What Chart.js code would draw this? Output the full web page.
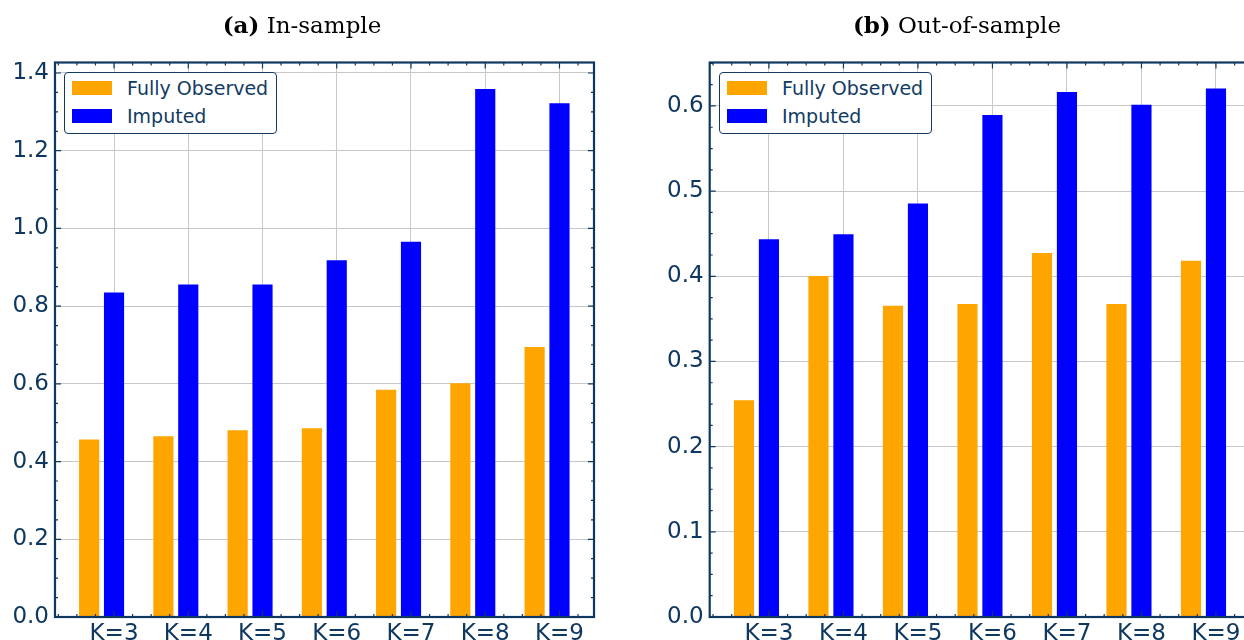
<!DOCTYPE html>
<html>
<head>
<meta charset="utf-8">
<script src="https://cdn.jsdelivr.net/npm/chart.js@4.4.1/dist/chart.umd.min.js"></script>
<style>
  html, body { margin: 0; padding: 0; background: #fff; width: 1244px; height: 640px; overflow: hidden; position: relative; }
  .panel { position: absolute; top: 0; height: 640px; }
  #p1 { left: 0; width: 620px; }
  #p2 { left: 620px; width: 640px; }
  .title { position: absolute; top: 11px; line-height: 28px; font-family: "DejaVu Serif"; font-size: 23px; color: #000; white-space: nowrap; transform: translateX(-50%); }
  .legend { position: absolute; top: 72px; width: 213px; height: 62px; box-sizing: border-box; border: 1px solid #123b63; border-radius: 4px; background: #fff; font-family: "DejaVu Sans"; font-size: 19px; color: #123b63; }
  .legend .sw { position: absolute; left: 7px; width: 40px; height: 14px; }
  .legend .lb { position: absolute; left: 62px; line-height: 22px; white-space: nowrap; }
</style>
</head>
<body>
<div class="panel" id="p1">
  <canvas id="c1" width="620" height="640"></canvas>
  <div class="title" style="left:302px"><b>(a)</b> In-sample</div>
  <div class="legend" style="left:64px">
    <div class="sw" style="top:8px;background:#ffa500"></div><div class="lb" style="top:4px">Fully Observed</div>
    <div class="sw" style="top:36px;background:#0000ff"></div><div class="lb" style="top:32px">Imputed</div>
  </div>
</div>
<div class="panel" id="p2">
  <canvas id="c2" width="640" height="640"></canvas>
  <div class="title" style="left:337px"><b>(b)</b> Out-of-sample</div>
  <div class="legend" style="left:99px">
    <div class="sw" style="top:8px;background:#ffa500"></div><div class="lb" style="top:4px">Fully Observed</div>
    <div class="sw" style="top:36px;background:#0000ff"></div><div class="lb" style="top:32px">Imputed</div>
  </div>
</div>
<script>
// data
const categories = ['K=3', 'K=4', 'K=5', 'K=6', 'K=7', 'K=8', 'K=9'];
const inObserved = [0.456, 0.464, 0.480, 0.485, 0.584, 0.601, 0.694];
const inImputed = [0.834, 0.855, 0.855, 0.917, 0.965, 1.358, 1.321];
const outObserved = [0.254, 0.400, 0.365, 0.367, 0.427, 0.367, 0.418];
const outImputed = [0.443, 0.449, 0.485, 0.589, 0.616, 0.601, 0.620];

const navy = '#0f3860';
const gridColor = '#c8c8c8';
const orange = '#ffa500';
const blue = '#0000ff';

// inward ticks on all four sides plus the frame
const framePlugin = {
    id: 'frame',
    afterDraw(chart) {
        const ctx = chart.ctx;
        const a = chart.chartArea;
        const x = chart.scales.x;
        const y = chart.scales.y;
        const yMajor = chart.options.scales.y.ticks.stepSize;
        ctx.save();
        ctx.strokeStyle = navy;
        ctx.lineWidth = 1.2;
        ctx.beginPath();
        for (let k = Math.ceil(x.min * 4); k <= Math.floor(x.max * 4); k++) {
            const px = x.getPixelForValue(k / 4);
            const len = k % 4 === 0 ? 6 : 3;
            ctx.moveTo(px, a.bottom); ctx.lineTo(px, a.bottom - len);
            ctx.moveTo(px, a.top); ctx.lineTo(px, a.top + len);
        }
        const yMinor = yMajor / 4;
        for (let k = 0; k * yMinor <= y.max + 1e-9; k++) {
            const py = y.getPixelForValue(k * yMinor);
            const len = k % 4 === 0 ? 6 : 3;
            ctx.moveTo(a.left, py); ctx.lineTo(a.left + len, py);
            ctx.moveTo(a.right, py); ctx.lineTo(a.right - len, py);
        }
        ctx.stroke();
        ctx.lineWidth = 2.2;
        ctx.strokeRect(a.left, a.top, a.right - a.left, a.bottom - a.top);
        ctx.restore();
    }
};

function makeChart(id, observed, imputed, yMax, yStep, leftWidth, rightPad) {
    new Chart(document.getElementById(id), {
        type: 'bar',
        data: {
            datasets: [
                {
                    label: 'Fully Observed',
                    data: observed.map((v, i) => ({ x: i - 0.335, y: v })),
                    backgroundColor: orange,
                    barThickness: 19.5,
                    grouped: false
                },
                {
                    label: 'Imputed',
                    data: imputed.map((v, i) => ({ x: i, y: v })),
                    backgroundColor: blue,
                    barThickness: 19.5,
                    grouped: false
                }
            ]
        },
        options: {
            responsive: false,
            animation: false,
            events: [],
            layout: { padding: { top: 62.5, right: rightPad, left: 0, bottom: 0 } },
            plugins: { legend: { display: false }, tooltip: { enabled: false } },
            scales: {
                x: {
                    type: 'linear',
                    min: -0.795,
                    max: 6.465,
                    offset: false,
                    afterBuildTicks: s => { s.ticks = categories.map((c, i) => ({ value: i })); },
                    afterFit: s => { s.height = 23; },
                    grid: { color: gridColor, lineWidth: 1, drawTicks: false, offset: false },
                    border: { display: false },
                    ticks: {
                        padding: 3,
                        color: navy,
                        font: { family: 'DejaVu Sans', size: 23 },
                        callback: v => categories[v]
                    }
                },
                y: {
                    min: 0,
                    max: yMax,
                    afterFit: s => { s.width = leftWidth; },
                    grid: { color: gridColor, lineWidth: 1, drawTicks: false },
                    border: { display: false },
                    ticks: {
                        stepSize: yStep,
                        includeBounds: false,
                        padding: 6,
                        color: navy,
                        font: { family: 'DejaVu Sans', size: 23 },
                        callback: v => v.toFixed(1)
                    }
                }
            }
        },
        plugins: [framePlugin]
    });
}

makeChart('c1', inObserved, inImputed, 1.427, 0.2, 55, 26);
makeChart('c2', outObserved, outImputed, 0.651, 0.1, 89.7, 9.4);
</script>
</body>
</html>
